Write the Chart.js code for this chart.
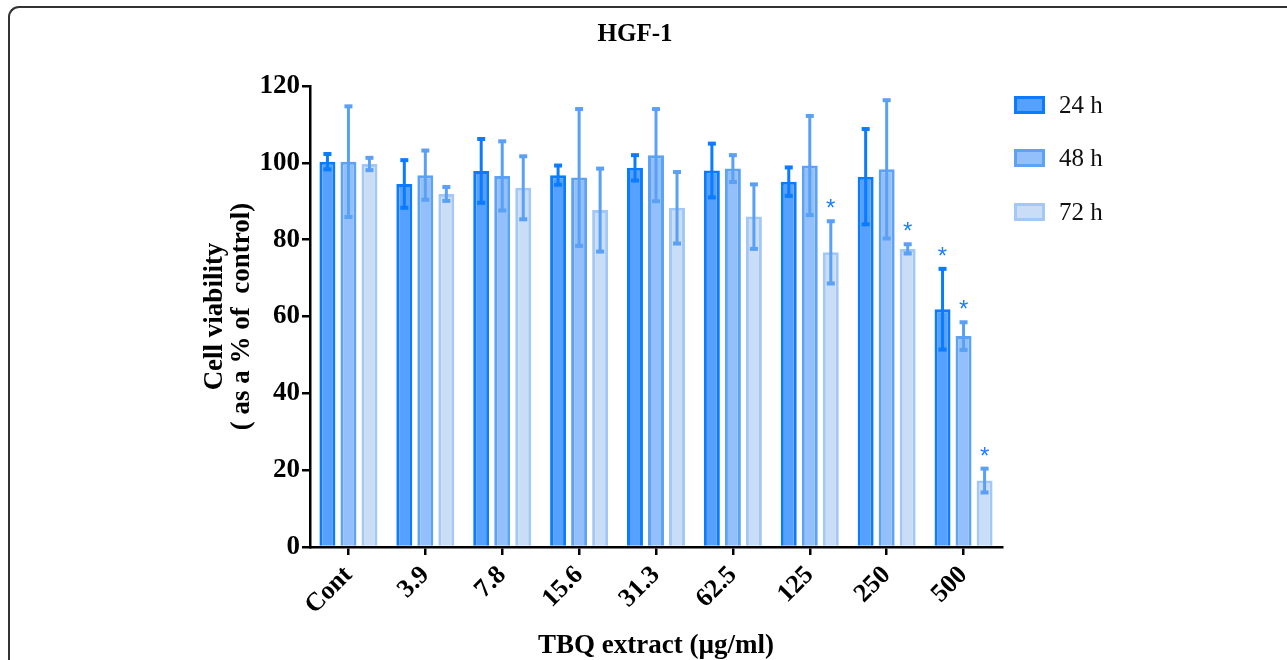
<!DOCTYPE html>
<html>
<head>
<meta charset="utf-8">
<script src="https://cdn.jsdelivr.net/npm/chart.js@4"></script>
<style>
  body { margin: 0; background: #fff; }
  #wrap { position: relative; width: 1287px; height: 660px; overflow: hidden; }
  #frame {
    position: absolute; left: 8px; top: 6px; width: 1400px; height: 800px;
    border-top: 2px solid #333; border-left: 2px solid #333;
    border-top-left-radius: 11px; box-sizing: border-box;
  }
  canvas { position: absolute; left: 0; top: 0; }
</style>
</head>
<body>
<div id="wrap">
  <div id="frame"></div>
  <canvas id="myChart" width="1287" height="660"></canvas>
</div>
<script>
// datos
const categorias = ['Cont', '3.9', '7.8', '15.6', '31.3', '62.5', '125', '250', '500'];
const series = ['24 h', '48 h', '72 h'];
const media24 = [100.3, 94.5, 97.9, 96.8, 98.7, 98.0, 95.1, 96.4, 61.9];
const media48 = [100.3, 96.8, 96.6, 96.2, 102.0, 98.5, 99.3, 98.3, 54.9];
const media72 = [99.7, 91.9, 93.5, 87.7, 88.3, 86.0, 76.7, 77.6, 17.3];
const error24 = [2.0, 6.2, 8.3, 2.5, 3.3, 7.0, 3.7, 12.4, 10.5];
const error48 = [14.4, 6.4, 9.0, 17.8, 12.0, 3.5, 12.9, 18.0, 3.6];
const error72 = [1.6, 1.8, 8.2, 10.8, 9.3, 8.4, 8.1, 1.2, 3.1];
// asteriscos de significancia
const sig24 = [0, 0, 0, 0, 0, 0, 0, 0, 1];
const sig48 = [0, 0, 0, 0, 0, 0, 0, 0, 1];
const sig72 = [0, 0, 0, 0, 0, 0, 1, 1, 1];
const yTicks = [0, 20, 40, 60, 80, 100, 120];
const titulo = 'HGF-1';

// colores
const relleno = ['#56a1ff', '#93c0fa', '#c9ddf7'];
const borde = ['#0b7bff', '#5ca2f6', '#a3c8f5'];
const colorError = ['#0b7bff', '#5aa0f5', '#5aa0f5'];

const errores = [error24, error48, error72];
const sigs = [sig24, sig48, sig72];
const serif = "'Liberation Serif', 'DejaVu Serif', serif";

// barras de error y asteriscos
const errorBars = {
  id: 'errorBars',
  afterDatasetsDraw(chart) {
    const ctx = chart.ctx;
    const y = chart.scales.y;
    chart.data.datasets.forEach((ds, i) => {
      const meta = chart.getDatasetMeta(i);
      meta.data.forEach((bar, j) => {
        const m = ds.data[j];
        const e = errores[i][j];
        const top = y.getPixelForValue(m + e);
        const bot = y.getPixelForValue(m - e);
        ctx.save();
        ctx.strokeStyle = colorError[i];
        ctx.fillStyle = colorError[i];
        ctx.lineWidth = 3;
        ctx.beginPath();
        ctx.moveTo(bar.x, top);
        ctx.lineTo(bar.x, bot);
        ctx.stroke();
        ctx.fillRect(bar.x - 4, top - 2, 8, 4);
        ctx.fillRect(bar.x - 4, bot - 2, 8, 4);
        if (sigs[i][j]) {
          ctx.fillStyle = '#1a80ff';
          ctx.font = "24px 'Liberation Sans', Arial, sans-serif";
          ctx.textAlign = 'center';
          ctx.textBaseline = 'alphabetic';
          ctx.fillText('*', bar.x, top - 5);
        }
        ctx.restore();
      });
    });
  }
};

// titulo y leyenda
const leyenda = {
  id: 'leyenda',
  afterDraw(chart) {
    const ctx = chart.ctx;
    ctx.save();
    ctx.fillStyle = '#000';
    ctx.font = 'bold 25px ' + serif;
    ctx.textAlign = 'center';
    ctx.textBaseline = 'middle';
    ctx.fillText(titulo, 635, 35);
    ctx.restore();
    const ys = [105, 158, 212];
    series.forEach((s, i) => {
      ctx.save();
      ctx.fillStyle = relleno[i];
      ctx.strokeStyle = borde[i];
      ctx.lineWidth = 3;
      ctx.fillRect(1014, ys[i] - 9, 31, 18);
      ctx.strokeRect(1014 + 1.5, ys[i] - 9 + 1.5, 28, 15);
      ctx.fillStyle = '#111';
      ctx.font = '25px ' + serif;
      ctx.textBaseline = 'middle';
      ctx.fillText(s, 1059, ys[i] + 1);
      ctx.restore();
    });
  }
};

const datasets = [media24, media48, media72].map((d, i) => ({
  label: series[i],
  data: d,
  backgroundColor: relleno[i],
  borderColor: borde[i],
  borderWidth: 3,
  categoryPercentage: 0.82,
  barPercentage: 0.76
}));

let ctx = document.getElementById('myChart').getContext('2d');
let myChart = new Chart(ctx, {
  type: 'bar',
  data: { labels: categorias, datasets: datasets },
  plugins: [errorBars, leyenda],
  options: {
    responsive: false,
    animation: false,
    layout: { padding: { left: 202, right: 285, top: 86, bottom: 0 } },
    plugins: {
      legend: { display: false },
      tooltip: { enabled: false },
      title: { display: false }
    },
    scales: {
      x: {
        grid: { offset: false, drawOnChartArea: false, drawTicks: true, tickLength: 8, color: '#000', lineWidth: 2.5 },
        border: { display: true, color: '#000', width: 2.5 },
        ticks: {
          color: '#000', maxRotation: 45, minRotation: 45, padding: 5,
          font: { family: serif, size: 26, weight: 'bold' }
        },
        title: {
          display: true, text: 'TBQ extract (\u00b5g/ml)', color: '#000',
          font: { family: serif, size: 27, weight: 'bold', lineHeight: 1.0 },
          padding: { top: 0, bottom: 0 }
        },
        afterFit: (s) => { s.height = 113; }
      },
      y: {
        min: 0, max: 120,
        afterBuildTicks: (s) => { s.ticks = yTicks.map(v => ({ value: v })); },
        grid: { drawOnChartArea: false, drawTicks: true, tickLength: 8, color: '#000', lineWidth: 2.5 },
        border: { display: true, color: '#000', width: 2.5 },
        ticks: {
          color: '#000', padding: 2,
          font: { family: serif, size: 27, weight: 'bold' }
        },
        title: {
          display: true, text: ['Cell viability', '( as a % of  control)'], color: '#000',
          font: { family: serif, size: 27, weight: 'bold', lineHeight: 1.0 },
          padding: { top: 0, bottom: 0 }
        },
        afterFit: (s) => { s.width = 108; }
      }
    }
  }
});
</script>
</body>
</html>
